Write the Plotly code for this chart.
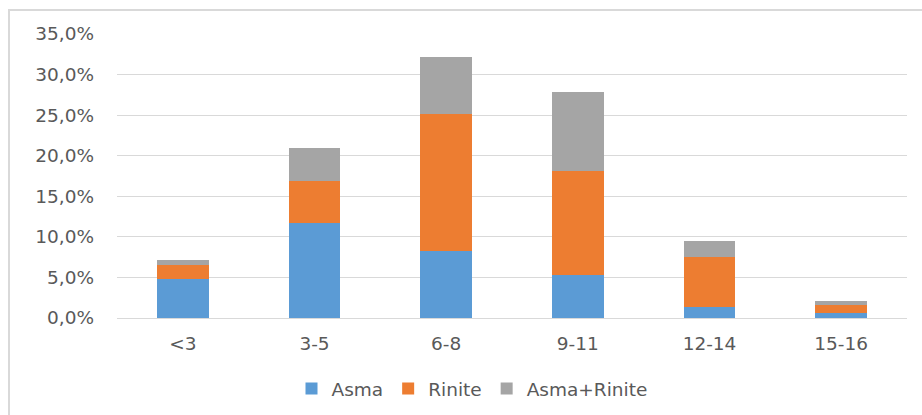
import plotly.graph_objects as go

# Age groups and share of children per condition (%)
categories = ["<3", "3-5", "6-8", "9-11", "12-14", "15-16"]
asma = [4.8, 11.7, 8.3, 5.3, 1.3, 0.6]
rinite = [1.7, 5.2, 16.9, 12.8, 6.2, 1.0]
asma_rinite = [0.7, 4.1, 7.0, 9.7, 2.0, 0.5]
y_ticks = [0, 5, 10, 15, 20, 25, 30, 35]
y_tick_labels = ["0,0%", "5,0%", "10,0%", "15,0%", "20,0%", "25,0%", "30,0%", "35,0%"]

W, H = 922, 415
L, R, T, B = 117, 15, 34, 97
pw, ph = W - L - R, H - T - B

def px_x(v):
    return (v - L) / pw

def px_y(v):
    return (H - B - v) / ph

FONT = "DejaVu Sans"
TXT = "#595959"

fig = go.Figure()
for name, vals, col in [
    ("Asma", asma, "#5B9BD5"),
    ("Rinite", rinite, "#ED7D31"),
    ("Asma+Rinite", asma_rinite, "#A5A5A5"),
]:
    fig.add_trace(go.Bar(x=categories, y=vals, name=name,
                         marker=dict(color=col, line=dict(width=0))))

fig.update_layout(
    barmode="stack",
    bargap=0.608,
    width=W, height=H,
    margin=dict(l=L, r=R, t=T, b=B, pad=0, autoexpand=False),
    paper_bgcolor="white",
    plot_bgcolor="white",
    font=dict(family=FONT, size=18, color=TXT),
    showlegend=True,
    legend=dict(orientation="h", x=px_x(472), xanchor="center",
                y=px_y(389), yanchor="middle",
                font=dict(family=FONT, size=18.5, color=TXT),
                itemwidth=30, traceorder="normal"),
    xaxis=dict(showgrid=False, showline=False, ticks="",
               tickfont=dict(family=FONT, size=18.5, color=TXT),
               ticklabelstandoff=12),
    yaxis=dict(range=[0, 35], tickvals=y_ticks, ticktext=y_tick_labels,
               showgrid=True, gridcolor="#D9D9D9",
               gridwidth=1, zeroline=True, zerolinecolor="#D9D9D9",
               zerolinewidth=1, showline=False, ticks="",
               tickfont=dict(family=FONT, size=18.5, color=TXT),
               ticklabelstandoff=22),
    shapes=[dict(type="rect", xref="paper", yref="paper",
                 x0=px_x(9), x1=px_x(940), y0=px_y(430), y1=px_y(10),
                 line=dict(color="#D9D9D9", width=2), layer="below")],
)

fig.write_html("out.html")
